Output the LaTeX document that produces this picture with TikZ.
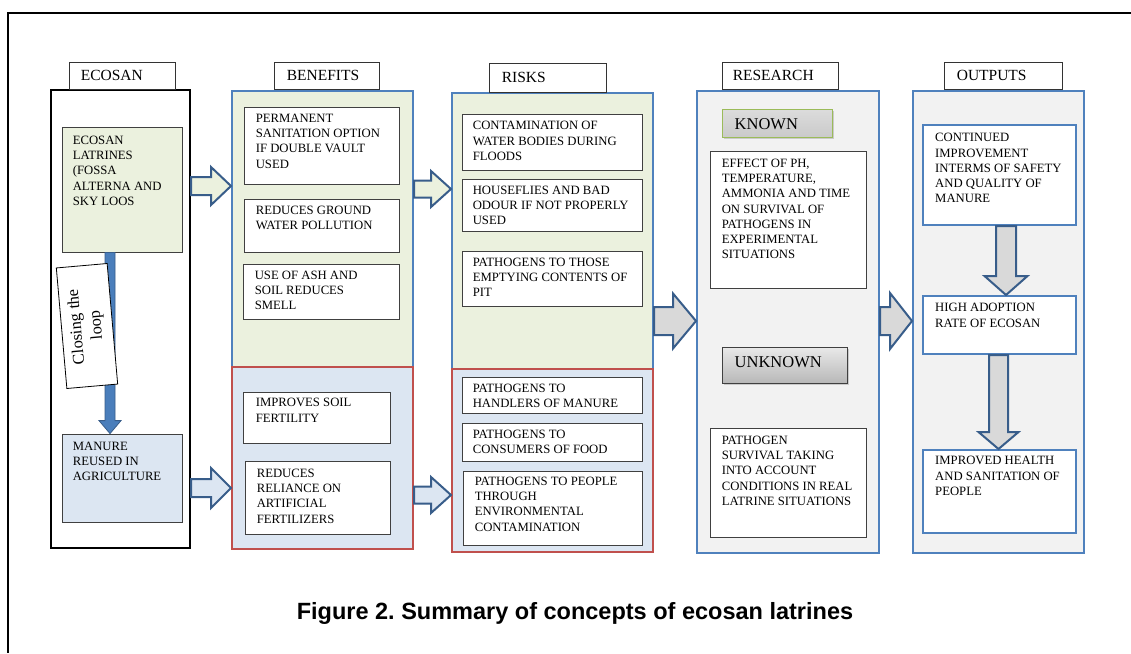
\documentclass[tikz,border=0pt]{standalone}
\usepackage{fontspec}
\setmainfont{Liberation Serif}
\newfontfamily\capfont{Liberation Sans}
\usetikzlibrary{calc,fit,shadows}

\definecolor{grn}{HTML}{EBF1DE}
\definecolor{blu}{HTML}{DCE6F2}
\definecolor{pnl}{HTML}{F2F2F2}
\definecolor{bbord}{HTML}{4F81BD}
\definecolor{rbord}{HTML}{C0504D}
\definecolor{abord}{HTML}{385D8A}
\definecolor{agray}{HTML}{D9D9D9}
\definecolor{kbord}{HTML}{9BBB59}
\definecolor{bxline}{HTML}{404040}
\definecolor{loopblue}{HTML}{4A7EBB}
\definecolor{ktop}{HTML}{DCDCDC}
\definecolor{kbot}{HTML}{CACACA}
\definecolor{utop}{HTML}{E9E9E9}
\definecolor{ubot}{HTML}{B8B8B8}

\newcommand\mybox[6]{\node[fit={(#3,#4) (#5,#6)}, inner sep=0pt, #2] (#1) {};}
\newcommand\boxtext[3]{\node[txt] (#1t) at ($(#1.north west)+(#2)$) {\strut #3};}
\newcommand\ttltext[3]{\node[ttl] (#1t) at ($(#1.south west)+(#2)$) {#3};}
\newcommand\harrow[7]{%
\draw[#7] (#1.east |- 0,#3-#4) -- ($(#2.west |- 0,#3-#4)+(-#6,0)$) -- ($(#2.west |- 0,#3-#5)+(-#6,0)$) -- (#2.west |- 0,#3) -- ($(#2.west |- 0,#3+#5)+(-#6,0)$) -- ($(#2.west |- 0,#3+#4)+(-#6,0)$) -- (#1.east |- 0,#3+#4) -- cycle;}
\newcommand\varrow[7]{%
\draw[#7] (#3-#4,0 |- #1.south) -- ($(#3-#4,0 |- #2.north)+(0,-#6)$) -- ($(#3-#5,0 |- #2.north)+(0,-#6)$) -- (#3,0 |- #2.north) -- ($(#3+#5,0 |- #2.north)+(0,-#6)$) -- ($(#3+#4,0 |- #2.north)+(0,-#6)$) -- (#3+#4,0 |- #1.south) -- cycle;}

\begin{document}
\begin{tikzpicture}[x=1pt,y=-1pt,
  titlebox/.style={draw=black!80, fill=white, line width=0.8pt},
  ecocol/.style={draw=black, fill=white, line width=2pt},
  bluecol/.style={draw=bbord, line width=2pt},
  redcol/.style={draw=rbord, line width=2pt},
  inbox/.style={draw=bxline, fill=white, line width=0.8pt},
  outbox/.style={draw=bbord, fill=white, line width=2pt},
  txt/.style={anchor=north west, inner sep=0pt, align=left, font=\fontsize{12.7}{15.2}\selectfont},
  ttl/.style={anchor=base west, inner sep=0pt, font=\fontsize{15.5}{18}\selectfont},
  bigt/.style={anchor=base west, inner sep=0pt, font=\fontsize{16.5}{20}\selectfont},
  arrG/.style={draw=abord, fill=grn, line width=2pt, line join=miter},
  arrB/.style={draw=abord, fill=blu, line width=2pt, line join=miter},
  arrGray/.style={draw=abord, fill=agray, line width=2pt, line join=miter},
  loopArr/.style={draw=abord, fill=loopblue, line width=0.8pt, line join=miter}]
\useasboundingbox (0,0) rectangle (1131,653);
\fill[white] (0,0) rectangle (1131,653);
% outer frame
\draw[line width=2pt] (1131,13) -- (8,13) -- (8,653);

% ---------- columns ----------
\mybox{ecoCol}{ecocol}{51}{90}{190}{548}
\mybox{tEco}{titlebox}{69}{62}{175}{89}
\ttltext{tEco}{12,-9}{ECOSAN}

\mybox{benU}{bluecol, fill=grn}{232}{91}{413}{367}
\mybox{benL}{redcol, fill=blu}{232}{367}{413}{549}
\mybox{tBen}{titlebox}{274}{62}{379}{89}
\ttltext{tBen}{13,-9}{BENEFITS}

\mybox{riskU}{bluecol, fill=grn}{452}{93}{653}{369}
\mybox{riskL}{redcol, fill=blu}{452}{369}{653}{552}
\mybox{tRisk}{titlebox}{489}{63}{606}{92}
\ttltext{tRisk}{13,-10}{RISKS}

\mybox{resCol}{bluecol, fill=pnl}{697}{91}{879}{553}
\mybox{tRes}{titlebox}{722}{62}{838}{89}
\ttltext{tRes}{11,-9}{RESEARCH}

\mybox{outCol}{bluecol, fill=pnl}{913}{91}{1084}{553}
\mybox{tOut}{titlebox}{944}{62}{1062}{89}
\ttltext{tOut}{13,-9}{OUTPUTS}

% ---------- ECOSAN ----------
\mybox{ecoLat}{inbox, fill=grn}{62}{127}{182}{252}
\boxtext{ecoLat}{11,7}{ECOSAN\\LATRINES\\(FOSSA\\ALTERNA AND\\SKY LOOS}
\mybox{manure}{inbox, fill=blu}{62}{434}{182}{522}
\boxtext{manure}{11,6}{MANURE\\REUSED IN\\AGRICULTURE}
\varrow{ecoLat}{manure}{110}{5}{11}{13}{loopArr}
\node[draw=black, fill=white, line width=0.8pt, rotate=95, minimum width=121, minimum height=51,
  inner sep=0pt, align=center, font=\fontsize{16.5}{20}\selectfont] (loop) at (87,326) {Closing the\\loop};

% ---------- BENEFITS ----------
\mybox{b1}{inbox}{244}{107}{399}{184}
\boxtext{b1}{12,5}{PERMANENT\\SANITATION OPTION\\IF DOUBLE VAULT\\USED}
\mybox{b2}{inbox}{244}{199}{399}{252}
\boxtext{b2}{12,5}{REDUCES GROUND\\WATER POLLUTION}
\mybox{b3}{inbox}{243}{264}{399}{319}
\boxtext{b3}{12,5}{USE OF ASH AND\\SOIL REDUCES\\SMELL}
\mybox{b4}{inbox}{243}{392}{390}{443}
\boxtext{b4}{13,4.5}{IMPROVES SOIL\\FERTILITY}
\mybox{b5}{inbox}{245}{461}{390}{534}
\boxtext{b5}{12,6}{REDUCES\\RELIANCE ON\\ARTIFICIAL\\FERTILIZERS}

% ---------- RISKS ----------
\mybox{r1}{inbox}{462}{114}{642}{170}
\boxtext{r1}{11,5.5}{CONTAMINATION OF\\WATER BODIES DURING\\FLOODS}
\mybox{r2}{inbox}{462}{179}{642}{231}
\boxtext{r2}{11,5}{HOUSEFLIES AND BAD\\ODOUR IF NOT PROPERLY\\USED}
\mybox{r3}{inbox}{462}{251}{642}{306}
\boxtext{r3}{11,5}{PATHOGENS TO THOSE\\EMPTYING CONTENTS OF\\PIT}
\mybox{r4}{inbox}{462}{377}{642}{413}
\boxtext{r4}{11,5}{PATHOGENS TO\\HANDLERS OF MANURE}
\mybox{r5}{inbox}{462}{423}{642}{461}
\boxtext{r5}{11,5}{PATHOGENS TO\\CONSUMERS OF FOOD}
\mybox{r6}{inbox}{463}{471}{642}{545}
\boxtext{r6}{12,4}{PATHOGENS TO PEOPLE\\THROUGH\\ENVIRONMENTAL\\CONTAMINATION}

% ---------- RESEARCH ----------
\mybox{known}{draw=kbord, line width=1pt, top color=ktop, bottom color=kbot,
  drop shadow={shadow xshift=1.5pt, shadow yshift=-2pt, opacity=0.35}}{722}{109}{832}{137}
\node[bigt] (knownt) at ($(known.west)+(13,6)$) {KNOWN};
\mybox{effect}{inbox}{710}{151}{866}{288}
\boxtext{effect}{12,6}{EFFECT OF PH,\\TEMPERATURE,\\AMMONIA AND TIME\\ON SURVIVAL OF\\PATHOGENS IN\\EXPERIMENTAL\\SITUATIONS}
\mybox{unknown}{draw=bxline, line width=1pt, top color=utop, bottom color=ubot,
  drop shadow={shadow xshift=1.5pt, shadow yshift=-2pt, opacity=0.35}}{722}{347}{847}{383}
\node[bigt] (unknownt) at ($(unknown.west)+(13,2)$) {UNKNOWN};
\mybox{surv}{inbox}{710}{428}{866}{537}
\boxtext{surv}{12,6}{PATHOGEN\\SURVIVAL TAKING\\INTO ACCOUNT\\CONDITIONS IN REAL\\LATRINE SITUATIONS}

% ---------- OUTPUTS ----------
\mybox{o1}{outbox}{923}{125}{1076}{225}
\boxtext{o1}{13,7}{CONTINUED\\IMPROVEMENT\\INTERMS OF SAFETY\\AND QUALITY OF\\MANURE}
\mybox{o2}{outbox}{923}{296}{1076}{354}
\boxtext{o2}{13,6}{HIGH ADOPTION\\RATE OF ECOSAN}
\mybox{o3}{outbox}{923}{450}{1076}{533}
\boxtext{o3}{13,5}{IMPROVED HEALTH\\AND SANITATION OF\\PEOPLE}
\varrow{o1}{o2}{1006}{10}{21.5}{19}{arrGray}
\varrow{o2}{o3}{998.5}{9.5}{20}{17}{arrGray}

% ---------- block arrows between columns ----------
\harrow{ecoCol}{benU}{186}{9}{19}{20}{arrG}
\harrow{ecoCol}{benL}{488}{9}{20}{20}{arrB}
\harrow{benU}{riskU}{189}{8.5}{18}{20}{arrG}
\harrow{benL}{riskL}{495}{8.5}{18}{20}{arrB}
\harrow{riskU}{resCol}{321}{14}{27.5}{23}{arrGray}
\harrow{resCol}{outCol}{321}{14}{28}{22}{arrGray}

% ---------- caption ----------
\node[anchor=base, inner sep=0pt, font={\capfont\bfseries\fontsize{23.5}{28}\selectfont\frenchspacing}] (cap) at (575,619)
  {Figure 2. Summary of concepts of ecosan latrines};
\end{tikzpicture}
\end{document}
